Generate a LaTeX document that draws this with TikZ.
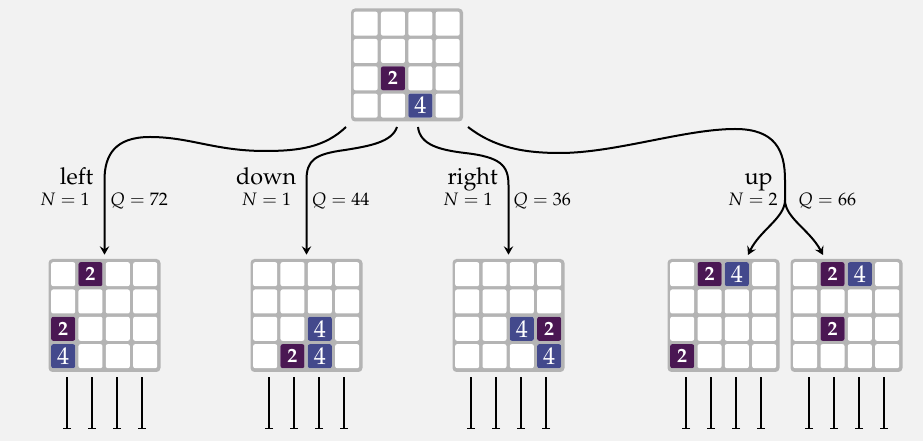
\documentclass[tikz,border=0pt]{standalone}
\usepackage[T1]{fontenc}
\usepackage{mathpazo}
\usetikzlibrary{arrows.meta,calc}
\definecolor{bg}{HTML}{F2F2F2}
\definecolor{framegray}{HTML}{B4B4B4}
\definecolor{ctwo}{HTML}{4A1753}
\definecolor{cfour}{HTML}{43498C}
\tikzset{
  boardbox/.style={fill=framegray, rounded corners=2.4pt, inner sep=0pt, minimum width=67.2pt, minimum height=67.8pt},
  cellbox/.style={fill=white, rounded corners=1.2pt},
  tilebase/.style={rounded corners=1.2pt, inner sep=0pt, minimum size=14.4pt, text=white},
  tile2/.style={tilebase, fill=ctwo, font=\fontsize{12}{12}\selectfont\bfseries},
  tile4/.style={tilebase, fill=cfour, font=\fontsize{14.5}{15}\selectfont},
  edgearrow/.style={line width=1.2pt, -{Stealth[length=5pt,width=5.6pt,inset=1.8pt]}},
  edgeline/.style={line width=1.2pt},
  stub/.style={line width=1pt, -{Bar[width=4.8pt,line width=1pt]}},
  actlab/.style={font=\fontsize{14}{16}\selectfont, inner sep=0pt},
  statlab/.style={font=\fontsize{10.8}{13}\selectfont, inner sep=0pt},
}
\newcommand\drawboard[4]{%
  \node[boardbox] (#1) at (#2,#3) {};
  \foreach \r in {1,...,4}{\foreach \c in {1,...,4}{
    \fill[cellbox] ($(#1.north west)+({3+(\c-1)*27.33},{3.5+(\r-1)*27.33})$) rectangle ++(24,24);
  }}
  \foreach \r/\c/\v in {#4}{
    \node[tile\v] (#1-\r\c) at ($(#1.north west)+({15+(\c-1)*27.33},{15.5+(\r-1)*27.33})$) {\v};
  }
}
\newcommand\drawstubs[1]{%
  \foreach \dx [count=\i] in {-37.5,-12.5,12.5,37.5}{
    \coordinate (#1-s\i) at ($(#1.south)+(\dx,5)$);
    \coordinate (#1-t\i) at ($(#1.south)+(\dx,57)$);
    \draw[stub] (#1-s\i) -- (#1-t\i);
  }
}
\begin{document}
\begin{tikzpicture}[x=0.6pt,y=-0.6pt]
\fill[bg] (0,0) rectangle (923,441);
\useasboundingbox (0,0) rectangle (923,441);

\drawboard{top}{407}{65}{3/2/2,4/3/4}
\drawboard{bl}{104.5}{315.5}{1/2/2,3/1/2,4/1/4}
\drawboard{bd}{306.5}{315.5}{3/3/4,4/2/2,4/3/4}
\drawboard{br}{508.5}{315.5}{3/3/4,3/4/2,4/4/4}
\drawboard{bua}{723.5}{315.5}{1/2/2,1/3/4,4/1/2}
\drawboard{bub}{846.5}{315.5}{1/2/2,1/3/4,3/2/2}

\drawstubs{bl}
\drawstubs{bd}
\drawstubs{br}
\drawstubs{bua}
\drawstubs{bub}

% edge start points
\coordinate (sL) at (346,127);
\coordinate (sD) at (397,127);
\coordinate (sR) at (418,127);
\coordinate (sU) at (468,127);
\coordinate (eL) at ($(bl.north)+(0,-4)$);
\coordinate (eD) at ($(bd.north)+(0,-4)$);
\coordinate (eR) at ($(br.north)+(0,-4)$);
\coordinate (eUa) at (748,255);
\coordinate (eUb) at (823,255);
\coordinate (splitU) at (785,200);

\draw[edgearrow] (sL) .. controls (325,147) and (300,151) .. (265,151)
  .. controls (215,151) and (190,137) .. (150,137)
  .. controls (115,137) and (104.5,155) .. (104.5,180) -- (eL);
\draw[edgearrow] (sD) .. controls (392,142) and (370,146) .. (345,150)
  .. controls (315,154) and (306.5,160) .. (306.5,180) -- (eD);
\draw[edgearrow] (sR) .. controls (420,145) and (440,150) .. (465,153)
  .. controls (500,157) and (508.5,165) .. (508.5,185) -- (eR);
\draw[edgeline] (sU) .. controls (495,148) and (525,153) .. (560,153)
  .. controls (615,153) and (685,129) .. (735,129)
  .. controls (775,129) and (785,150) .. (785,180) -- (splitU);
\draw[edgearrow] (splitU) .. controls (785,218) and (760,230) .. (eUa);
\draw[edgearrow] (splitU) .. controls (785,218) and (810,230) .. (eUb);

% labels
\node[actlab, anchor=base east] (aL) at (93.5,185) {left};
\node[statlab, anchor=base east] (nL) at (90,205.5) {$N=1$};
\node[statlab, anchor=base west] (qL) at (110,205.5) {$Q=72$};

\node[actlab, anchor=base east] (aD) at (296.5,185) {down};
\node[statlab, anchor=base east] (nD) at (291.5,205.5) {$N=1$};
\node[statlab, anchor=base west] (qD) at (311.5,205.5) {$Q=44$};

\node[actlab, anchor=base east] (aR) at (498,185) {right};
\node[statlab, anchor=base east] (nR) at (493,205.5) {$N=1$};
\node[statlab, anchor=base west] (qR) at (513,205.5) {$Q=36$};

\node[actlab, anchor=base east] (aU) at (773,185) {up};
\node[statlab, anchor=base east] (nU) at (778,205.5) {$N=2$};
\node[statlab, anchor=base west] (qU) at (798,205.5) {$Q=66$};
\end{tikzpicture}
\end{document}
